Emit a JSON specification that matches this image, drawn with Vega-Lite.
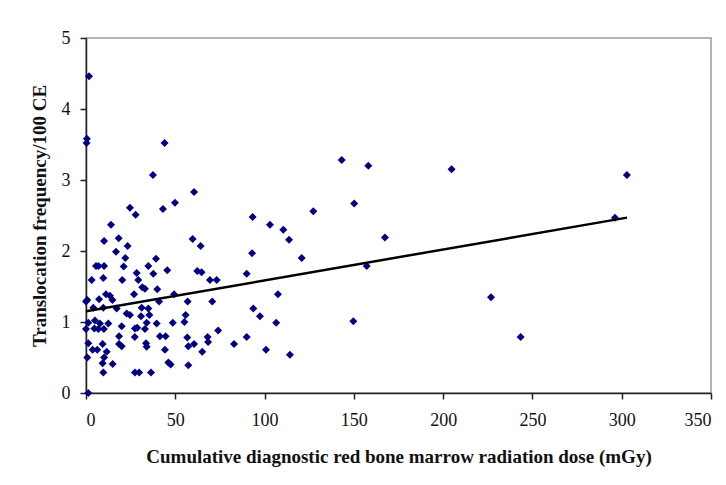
{
  "$schema": "https://vega.github.io/schema/vega-lite/v6.json",
  "width": 625,
  "height": 355,
  "autosize": {"type": "none"},
  "padding": {"left": 86, "top": 38, "right": 15, "bottom": 92},
  "background": "white",
  "config": {
    "font": "Liberation Serif",
    "view": {"stroke": "#9a9a9a", "strokeWidth": 1.5},
    "axis": {"grid": false, "domainColor": "#222", "tickColor": "#222", "labelColor": "#111", "titleColor": "#111", "labelFont": "Liberation Serif", "titleFont": "Liberation Serif", "labelFontSize": 18, "titleFontSize": 19, "titleFontWeight": "bold", "tickSize": 6, "domainWidth": 1.5, "tickWidth": 1.5}
  },
  "datasets": {
    "pts": [
      {"dose": 1.7, "freq": 4.46}, {"dose": 0.5, "freq": 3.58}, {"dose": 0.3, "freq": 3.52}, {"dose": 44, "freq": 3.52},
      {"dose": 37.5, "freq": 3.07}, {"dose": 60.5, "freq": 2.83}, {"dose": 49.8, "freq": 2.68}, {"dose": 24.6, "freq": 2.61},
      {"dose": 43.1, "freq": 2.59}, {"dose": 27.8, "freq": 2.51}, {"dose": 14, "freq": 2.37}, {"dose": 93.3, "freq": 2.48},
      {"dose": 103, "freq": 2.37}, {"dose": 10.1, "freq": 2.14}, {"dose": 18.3, "freq": 2.18}, {"dose": 23.3, "freq": 2.07},
      {"dose": 16.8, "freq": 1.99}, {"dose": 59.7, "freq": 2.17}, {"dose": 64.2, "freq": 2.07}, {"dose": 93, "freq": 1.97},
      {"dose": 22, "freq": 1.9}, {"dose": 5.6, "freq": 1.79}, {"dose": 7, "freq": 1.79}, {"dose": 10.1, "freq": 1.79},
      {"dose": 21.1, "freq": 1.78}, {"dose": 39.2, "freq": 1.89}, {"dose": 34.9, "freq": 1.79}, {"dose": 45.5, "freq": 1.73},
      {"dose": 3.2, "freq": 1.59}, {"dose": 9.7, "freq": 1.62}, {"dose": 20.3, "freq": 1.59}, {"dose": 28.4, "freq": 1.69},
      {"dose": 29.3, "freq": 1.59}, {"dose": 37.7, "freq": 1.68}, {"dose": 31.5, "freq": 1.49}, {"dose": 33, "freq": 1.47},
      {"dose": 39.9, "freq": 1.46}, {"dose": 62.3, "freq": 1.72}, {"dose": 64.7, "freq": 1.7}, {"dose": 69.4, "freq": 1.59},
      {"dose": 73.2, "freq": 1.59}, {"dose": 90, "freq": 1.68}, {"dose": 107.5, "freq": 1.39}, {"dose": 49.3, "freq": 1.39},
      {"dose": 26.9, "freq": 1.39}, {"dose": 11.2, "freq": 1.39}, {"dose": 13.4, "freq": 1.37}, {"dose": 14.8, "freq": 1.31},
      {"dose": 0.7, "freq": 1.31}, {"dose": 0, "freq": 1.29}, {"dose": 7.3, "freq": 1.32}, {"dose": 4.1, "freq": 1.2},
      {"dose": 9.7, "freq": 1.2}, {"dose": 17.2, "freq": 1.19}, {"dose": 40.9, "freq": 1.29}, {"dose": 56.9, "freq": 1.29},
      {"dose": 70.7, "freq": 1.29}, {"dose": 31.2, "freq": 1.2}, {"dose": 34.9, "freq": 1.19}, {"dose": 22.8, "freq": 1.12},
      {"dose": 24.6, "freq": 1.1}, {"dose": 30.8, "freq": 1.08}, {"dose": 35.5, "freq": 1.1}, {"dose": 55.8, "freq": 1.1},
      {"dose": 55.1, "freq": 1.0}, {"dose": 48.6, "freq": 0.99}, {"dose": 39.6, "freq": 0.98}, {"dose": 34, "freq": 0.99},
      {"dose": 20, "freq": 0.94}, {"dose": 12.5, "freq": 0.98}, {"dose": 7.8, "freq": 0.98}, {"dose": 5, "freq": 1.02},
      {"dose": 1.3, "freq": 0.99}, {"dose": 0, "freq": 0.9}, {"dose": 4.7, "freq": 0.91}, {"dose": 6.9, "freq": 0.9},
      {"dose": 10, "freq": 0.9}, {"dose": 27.4, "freq": 0.91}, {"dose": 28.7, "freq": 0.92}, {"dose": 33, "freq": 0.9},
      {"dose": 41.4, "freq": 0.8}, {"dose": 44.6, "freq": 0.8}, {"dose": 18.5, "freq": 0.8}, {"dose": 56.7, "freq": 0.78},
      {"dose": 74, "freq": 0.88}, {"dose": 68.1, "freq": 0.79}, {"dose": 68.4, "freq": 0.72}, {"dose": 90, "freq": 0.79},
      {"dose": 82.9, "freq": 0.69}, {"dose": 100.8, "freq": 0.61}, {"dose": 97.4, "freq": 1.08}, {"dose": 106.5, "freq": 0.99},
      {"dose": 1.3, "freq": 0.7}, {"dose": 9.3, "freq": 0.69}, {"dose": 18.5, "freq": 0.69}, {"dose": 20, "freq": 0.66},
      {"dose": 33.6, "freq": 0.7}, {"dose": 34, "freq": 0.65}, {"dose": 44.2, "freq": 0.61}, {"dose": 60.5, "freq": 0.69},
      {"dose": 65.1, "freq": 0.58}, {"dose": 3.7, "freq": 0.61}, {"dose": 6.3, "freq": 0.61}, {"dose": 11.6, "freq": 0.58},
      {"dose": 0.7, "freq": 0.5}, {"dose": 10.1, "freq": 0.5}, {"dose": 9.3, "freq": 0.42}, {"dose": 14.9, "freq": 0.41},
      {"dose": 46.1, "freq": 0.43}, {"dose": 47.4, "freq": 0.4}, {"dose": 57.3, "freq": 0.39}, {"dose": 9.7, "freq": 0.29},
      {"dose": 27.4, "freq": 0.29}, {"dose": 29.8, "freq": 0.29}, {"dose": 36.4, "freq": 0.29}, {"dose": 1.3, "freq": 0.0},
      {"dose": 93.7, "freq": 1.19}, {"dose": 57.3, "freq": 0.66}, {"dose": 27.3, "freq": 0.79}, {"dose": 143.2, "freq": 3.28},
      {"dose": 158.1, "freq": 3.2}, {"dose": 204.7, "freq": 3.15}, {"dose": 150.2, "freq": 2.67}, {"dose": 127.3, "freq": 2.56},
      {"dose": 110.5, "freq": 2.3}, {"dose": 113.7, "freq": 2.16}, {"dose": 167.4, "freq": 2.19}, {"dose": 120.8, "freq": 1.9},
      {"dose": 157.2, "freq": 1.79}, {"dose": 149.7, "freq": 1.01}, {"dose": 114.2, "freq": 0.54}, {"dose": 302.9, "freq": 3.07},
      {"dose": 296.2, "freq": 2.47}, {"dose": 226.8, "freq": 1.35}, {"dose": 243.4, "freq": 0.79}
    ],
    "fit": [
      {"dose": 0, "freq": 1.15},
      {"dose": 303, "freq": 2.47}
    ]
  },
  "layer": [
    {
      "data": {"name": "pts"},
      "mark": {"type": "point", "shape": "diamond", "filled": true, "color": "#000080", "size": 64, "opacity": 1},
      "encoding": {
        "x": {"field": "dose", "type": "quantitative", "scale": {"domain": [0, 350], "nice": false},
          "axis": {"values": [0, 50, 100, 150, 200, 250, 300, 350], "format": "d", "title": "Cumulative diagnostic red bone marrow radiation dose (mGy)", "labelPadding": 12, "titlePadding": 18}},
        "y": {"field": "freq", "type": "quantitative", "scale": {"domain": [0, 5], "nice": false},
          "axis": {"values": [0, 1, 2, 3, 4, 5], "format": "d", "title": "Translocation frequency/100 CE", "labelPadding": 10, "titlePadding": 12}}
      }
    },
    {
      "data": {"name": "fit"},
      "mark": {"type": "line", "color": "black", "strokeWidth": 2.5},
      "encoding": {
        "x": {"field": "dose", "type": "quantitative"},
        "y": {"field": "freq", "type": "quantitative"}
      }
    }
  ]
}
